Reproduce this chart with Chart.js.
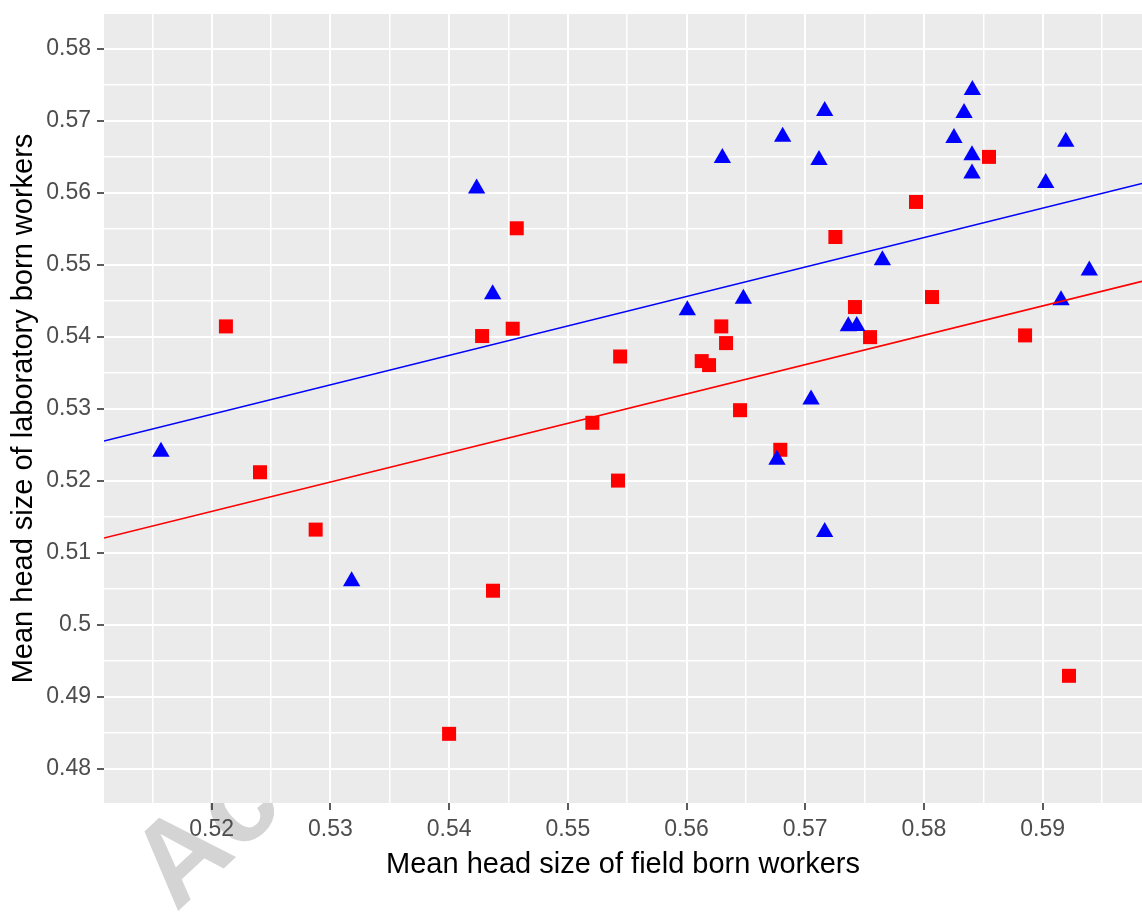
<!DOCTYPE html>
<html>
<head>
<meta charset="utf-8">
<script src="https://cdn.jsdelivr.net/npm/chart.js@4"></script>
<style>
  html, body { margin: 0; padding: 0; background: #ffffff; }
  #wrap { width: 1142px; height: 912px; }
</style>
</head>
<body>
<div id="wrap"><canvas id="c" width="1142" height="912"></canvas></div>
<script>
// ---- data ----
const redX = [0.52120, 0.52407, 0.52876, 0.54000, 0.54370, 0.54278, 0.54536, 0.54570, 0.55207, 0.55441,
              0.55423, 0.56128, 0.56190, 0.56293, 0.56333, 0.56451, 0.56790, 0.57254, 0.57419, 0.57546,
              0.57933, 0.58068, 0.58548, 0.58852, 0.59222];
const redY = [0.54143, 0.52117, 0.51320, 0.48483, 0.50471, 0.54009, 0.54111, 0.55506, 0.52804, 0.53725,
              0.52001, 0.53661, 0.53605, 0.54143, 0.53911, 0.52979, 0.52429, 0.55385, 0.54412, 0.53994,
              0.55872, 0.54551, 0.56498, 0.54018, 0.49289];

const blueX = [0.51573, 0.53179, 0.54232, 0.54367, 0.56007, 0.56302, 0.56479, 0.56762, 0.56810, 0.57049,
               0.57116, 0.57164, 0.57164, 0.57363, 0.57434, 0.57650, 0.58253, 0.58338, 0.58408, 0.58405,
               0.58405, 0.59026, 0.59155, 0.59195, 0.59393];
const blueY = [0.52400, 0.50601, 0.56058, 0.54588, 0.54366, 0.56484, 0.54528, 0.52289, 0.56776, 0.53128,
               0.56456, 0.57134, 0.51288, 0.54144, 0.54148, 0.55061, 0.56762, 0.57106, 0.57426, 0.56522,
               0.56267, 0.56136, 0.54505, 0.56707, 0.54918];

// fitted regression lines (end points at the panel edges)
const fitX = [0.51093, 0.59837];
const blueFitY = [0.52551, 0.56128];
const redFitY = [0.51204, 0.54769];

// axis ranges and ticks
const xRange = [0.51093, 0.59837];
const yRange = [0.47522, 0.58483];
const xTickValues = [0.52, 0.53, 0.54, 0.55, 0.56, 0.57, 0.58, 0.59];
const xTickLabels = ['0.52', '0.53', '0.54', '0.55', '0.56', '0.57', '0.58', '0.59'];
const xMinorValues = [0.515, 0.525, 0.535, 0.545, 0.555, 0.565, 0.575, 0.585, 0.595];
const yTickValues = [0.48, 0.49, 0.50, 0.51, 0.52, 0.53, 0.54, 0.55, 0.56, 0.57, 0.58];
const yTickLabels = ['0.48', '0.49', '0.5', '0.51', '0.52', '0.53', '0.54', '0.55', '0.56', '0.57', '0.58'];
const yMinorValues = [0.485, 0.495, 0.505, 0.515, 0.525, 0.535, 0.545, 0.555, 0.565, 0.575];

const xTitle = 'Mean head size of field born workers';
const yTitle = 'Mean head size of laboratory born workers';
const watermarkText = 'Accepted Manuscript';

// ---- helpers ----
const FONT = '"Liberation Sans", Arial, Helvetica, sans-serif';
const near = (a, b) => Math.abs(a - b) < 1e-7;
const labelFor = (v, vals, labels) => {
  const i = vals.findIndex(t => near(t, v));
  return i >= 0 ? labels[i] : '';
};
const isMajor = (v, vals) => vals.some(t => near(t, v));
const allTicks = (major, minor) => major.concat(minor).sort((a, b) => a - b).map(v => ({ value: v }));
const noPad = s => { s.paddingLeft = 0; s.paddingRight = 0; s.paddingTop = 0; s.paddingBottom = 0; };

const panelPlugin = {
  id: 'panel',
  beforeDraw(chart) {
    const ctx = chart.ctx;
    const a = chart.chartArea;
    ctx.save();
    ctx.fillStyle = '#ffffff';
    ctx.fillRect(0, 0, chart.width, chart.height);
    // watermark (behind the panel)
    ctx.translate(176, 913);
    ctx.rotate(-43 * Math.PI / 180);
    ctx.font = 'bold 118px ' + FONT;
    ctx.fillStyle = '#d4d4d4';
    ctx.textBaseline = 'alphabetic';
    ctx.fillText(watermarkText, 0, 0);
    ctx.restore();
    ctx.save();
    ctx.fillStyle = '#EBEBEB';
    ctx.fillRect(a.left, a.top, a.right - a.left, a.bottom - a.top);
    ctx.restore();
  }
};

const toPts = (xs, ys) => xs.map((x, i) => ({ x: x, y: ys[i] }));

new Chart(document.getElementById('c'), {
  type: 'scatter',
  data: {
    datasets: [
      {
        label: 'fit blue', data: toPts(fitX, blueFitY), showLine: true,
        borderColor: '#0000FF', borderWidth: 1.6, pointRadius: 0, fill: false
      },
      {
        label: 'fit red', data: toPts(fitX, redFitY), showLine: true,
        borderColor: '#FF0000', borderWidth: 1.6, pointRadius: 0, fill: false
      },
      {
        label: 'blue', data: toPts(blueX, blueY), pointStyle: 'triangle',
        pointRadius: 10, pointHoverRadius: 10, backgroundColor: '#0000FF',
        borderWidth: 0, pointBorderWidth: 0
      },
      {
        label: 'red', data: toPts(redX, redY), pointStyle: 'rect',
        pointRadius: 9.9, pointHoverRadius: 9.9, backgroundColor: '#FF0000',
        borderWidth: 0, pointBorderWidth: 0
      }
    ]
  },
  options: {
    responsive: false,
    devicePixelRatio: 1,
    animation: false,
    events: [],
    layout: { autoPadding: false, padding: { top: 14, left: 0, right: 0, bottom: 0 } },
    plugins: { legend: { display: false }, tooltip: { enabled: false } },
    scales: {
      x: {
        type: 'linear',
        min: xRange[0], max: xRange[1],
        afterBuildTicks: s => { s.ticks = allTicks(xTickValues, xMinorValues); },
        afterFit: s => { s.height = 109; noPad(s); },
        ticks: {
          autoSkip: false, maxRotation: 0, minRotation: 0,
          callback: v => labelFor(v, xTickValues, xTickLabels),
          color: '#4D4D4D', font: { size: 23, family: FONT }, padding: 6
        },
        grid: {
          color: '#FFFFFF',
          lineWidth: c => (c.tick && isMajor(c.tick.value, xTickValues)) ? 2 : 1.5,
          drawTicks: true, tickLength: 7,
          tickColor: c => (c.tick && isMajor(c.tick.value, xTickValues)) ? '#333333' : 'rgba(0,0,0,0)',
          tickWidth: 1.6
        },
        border: { display: false },
        title: {
          display: true, text: xTitle, color: '#000000',
          font: { size: 29, family: FONT }, padding: { top: 0, bottom: 30 }
        }
      },
      y: {
        type: 'linear',
        min: yRange[0], max: yRange[1],
        afterBuildTicks: s => { s.ticks = allTicks(yTickValues, yMinorValues); },
        afterFit: s => { s.width = 104; noPad(s); },
        ticks: {
          autoSkip: false,
          callback: v => labelFor(v, yTickValues, yTickLabels),
          color: '#4D4D4D', font: { size: 23, family: FONT }, padding: 6
        },
        grid: {
          color: '#FFFFFF',
          lineWidth: c => (c.tick && isMajor(c.tick.value, yTickValues)) ? 2 : 1.5,
          drawTicks: true, tickLength: 7,
          tickColor: c => (c.tick && isMajor(c.tick.value, yTickValues)) ? '#333333' : 'rgba(0,0,0,0)',
          tickWidth: 1.6
        },
        border: { display: false },
        title: {
          display: true, text: yTitle, color: '#000000',
          font: { size: 29, family: FONT }, padding: { top: 6.6, bottom: 0 }
        }
      }
    }
  },
  plugins: [panelPlugin]
});
</script>
</body>
</html>
